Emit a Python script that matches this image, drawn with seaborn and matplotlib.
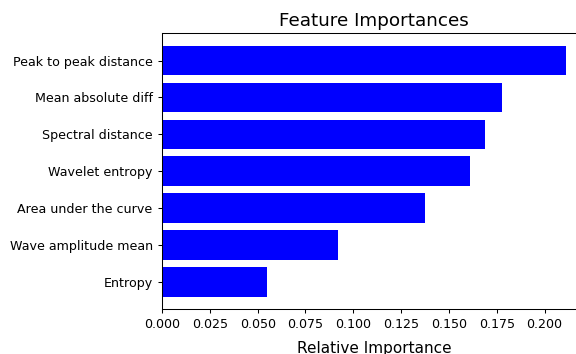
import matplotlib
matplotlib.use("Agg")
import matplotlib.pyplot as plt
import pandas as pd
import seaborn as sns

# feature names, top to bottom
features = ["Peak to peak distance",
            "Mean absolute diff",
            "Spectral distance",
            "Wavelet entropy",
            "Area under the curve",
            "Wave amplitude mean",
            "Entropy"]
importances = [0.211, 0.1775, 0.1687, 0.1608, 0.1373, 0.0919, 0.0548]
xticks = [0.0, 0.025, 0.05, 0.075, 0.1, 0.125, 0.15, 0.175, 0.2]

df = pd.DataFrame({"feature": features, "importance": importances})

fig = plt.figure(figsize=(5.76, 3.54), dpi=100)
# axes runs past the right edge, like the cropped original
ax = fig.add_axes([0.28125, 0.127, 0.736, 0.779])

sns.barplot(data=df, x="importance", y="feature", orient="h",
            color="blue", saturation=1, width=0.8, ax=ax)

ax.set_ylim(6.74, -0.74)
ax.set_xlim(0, 0.2216)
ax.set_xticks(xticks)
ax.set_xticklabels(["%.3f" % t for t in xticks])
ax.tick_params(labelsize=9.1, length=3.2, width=0.75)
for s in ax.spines.values():
    s.set_linewidth(0.75)
ax.set_ylabel("")
ax.set_title("Feature Importances", fontsize=13.2, pad=5.5)
ax.set_xlabel("Relative Importance", fontsize=11, labelpad=7)

fig.savefig("out.png", dpi=100)
